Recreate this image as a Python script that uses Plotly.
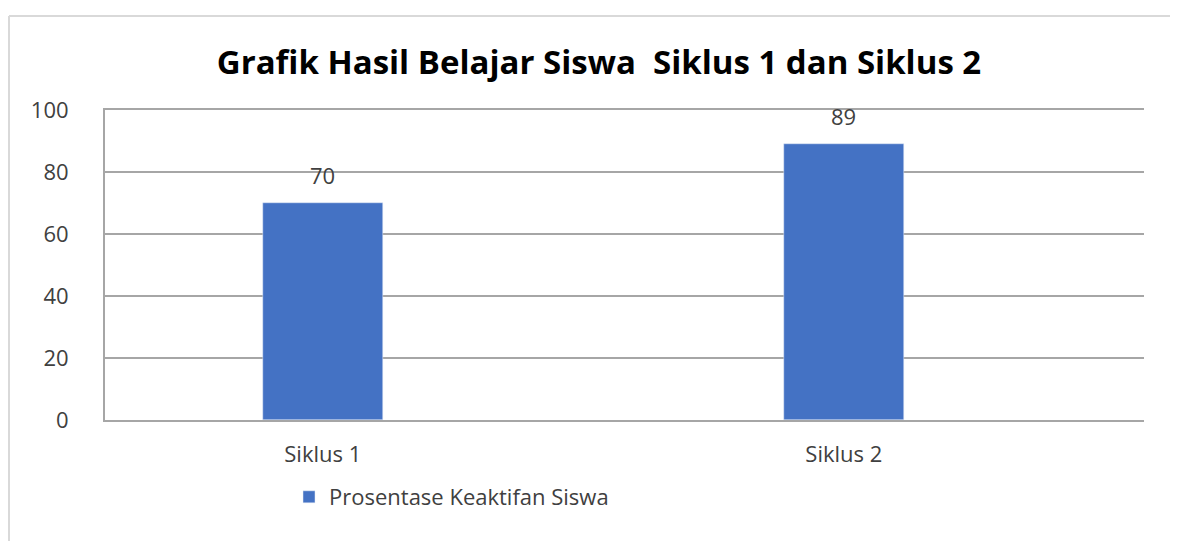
import plotly.graph_objects as go

categories = ["Siklus 1", "Siklus 2"]
values = [70, 89]
series_name = "Prosentase Keaktifan Siswa"
y_ticks = [0, 20, 40, 60, 80, 100]

# page offset of the plot div inside the browser window
OFF = 8
W, H = 1178 - OFF, 541 - OFF
# plot area in screen pixels: x 105..1144, y 110..420
L, R, T, B = 105 - OFF, 1178 - 1144, 110 - OFF, 541 - 420
pw, ph = W - L - R, H - T - B


def px_x(x):
    return (x - OFF - L) / pw


def px_y(y):
    return (H - B - (y - OFF)) / ph


fig = go.Figure()
fig.add_trace(go.Bar(
    x=[0, 1], y=values, name=series_name,
    width=0.23, marker=dict(color="#4472C4"),
    showlegend=True,
))

for i, v in enumerate(values):
    fig.add_annotation(x=i, y=v, text=str(v), showarrow=False,
                       yshift=28, font=dict(size=22, color="#404040"))

# chart area border (only left and top visible)
border = dict(color="#d9d9d9", width=2)
fig.add_shape(type="line", xref="paper", yref="paper",
              x0=px_x(9), y0=px_y(16), x1=px_x(1185), y1=px_y(16), line=border)
fig.add_shape(type="line", xref="paper", yref="paper",
              x0=px_x(9), y0=px_y(16), x1=px_x(9), y1=px_y(560), line=border)

fig.update_layout(
    width=W, height=H,
    margin=dict(l=L, r=R, t=T, b=B),
    paper_bgcolor="white", plot_bgcolor="white",
    font=dict(family="Open Sans", color="#404040"),
    title=dict(text="<b>Grafik Hasil Belajar Siswa  Siklus 1 dan Siklus 2</b>",
               x=px_x(599), xref="paper", xanchor="center",
               y=(H - (62 - OFF)) / H, yanchor="middle",
               font=dict(size=33, color="black")),
    xaxis=dict(tickvals=[0, 1], ticktext=categories, range=[-0.418, 1.576],
               showgrid=False, showline=True, linecolor="#a6a6a6", linewidth=2,
               mirror=True, ticks="", ticklabelstandoff=14,
               tickfont=dict(size=22, color="#404040"), zeroline=False),
    yaxis=dict(range=[0, 100], tickvals=y_ticks, showgrid=True,
               gridcolor="#a6a6a6", gridwidth=2, showline=True,
               linecolor="#a6a6a6", linewidth=2,
               ticks="", ticklabelstandoff=30, zeroline=False,
               tickfont=dict(size=22, color="#404040")),
    legend=dict(orientation="h", x=px_x(289), xanchor="left",
                y=px_y(497), yanchor="middle",
                font=dict(size=22, color="#404040")),
    bargap=0,
)

fig.write_html("out.html")
